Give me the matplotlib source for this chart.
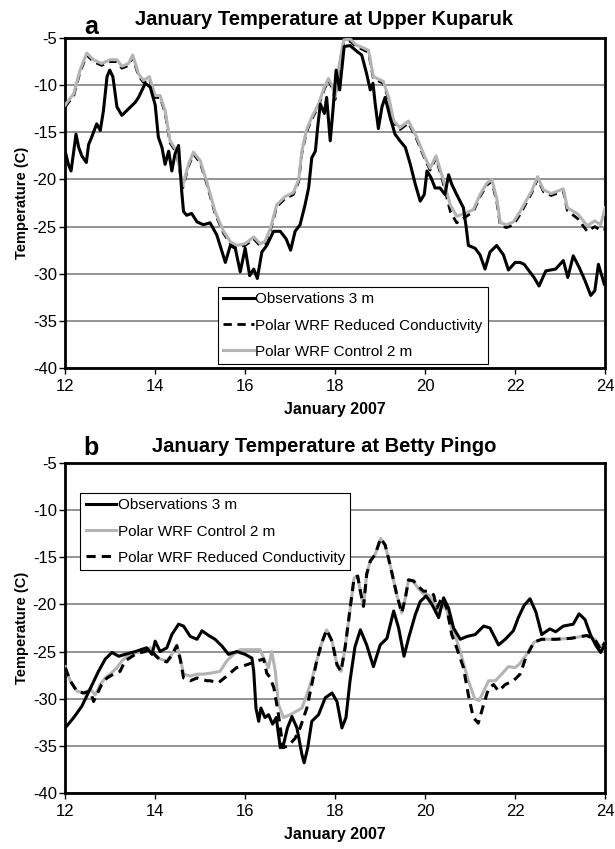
import matplotlib
matplotlib.use("Agg")
from matplotlib import pyplot as plt

plt.rcParams['font.family'] = ['Liberation Sans', 'DejaVu Sans']
plt.rcParams['axes.unicode_minus'] = False

# ---- panel a: Upper Kuparuk ----
a_obs_day = [12.0, 12.07, 12.13, 12.19, 12.24, 12.3, 12.37, 12.47, 12.52, 12.59, 12.7, 12.78,
             12.85, 12.93, 12.99, 13.06, 13.15, 13.26, 13.41, 13.56, 13.63, 13.78, 13.89, 14.0,
             14.07, 14.15, 14.22, 14.3, 14.37, 14.44, 14.52, 14.59, 14.63, 14.7, 14.81, 14.93,
             15.07, 15.22, 15.37, 15.56, 15.67, 15.78, 15.89, 16.0, 16.1, 16.19, 16.27, 16.37,
             16.48, 16.63, 16.78, 16.91, 17.01, 17.11, 17.22, 17.33, 17.41, 17.48, 17.56, 17.61,
             17.67, 17.76, 17.81, 17.89, 17.95, 18.02, 18.1, 18.2, 18.33, 18.48, 18.59, 18.7,
             18.78, 18.84, 18.89, 18.96, 19.04, 19.11, 19.22, 19.33, 19.44, 19.56, 19.67, 19.78,
             19.89, 19.98, 20.04, 20.13, 20.22, 20.33, 20.44, 20.52, 20.59, 20.7, 20.85, 20.91,
             20.96, 21.11, 21.22, 21.33, 21.44, 21.59, 21.74, 21.85, 22.0, 22.11, 22.2, 22.42,
             22.53, 22.68, 22.9, 23.07, 23.17, 23.29, 23.42, 23.55, 23.68, 23.77, 23.85, 23.98]
a_obs_t = [-17.0, -18.4, -19.1, -17.0, -15.2, -16.6, -17.5, -18.2, -16.3, -15.5, -14.1, -14.8,
           -12.7, -9.1, -8.4, -9.1, -12.3, -13.2, -12.5, -11.8, -11.3, -9.8, -10.2, -12.1,
           -15.5, -16.6, -18.4, -17.0, -19.1, -17.3, -16.4, -21.3, -23.4, -23.8, -23.6, -24.5,
           -24.8, -24.6, -25.9, -28.8, -27.0, -27.3, -29.8, -27.3, -30.2, -29.5, -30.5, -27.7,
           -27.0, -25.5, -25.5, -26.3, -27.5, -25.5, -24.8, -22.7, -20.9, -17.7, -17.0, -14.5,
           -12.0, -13.0, -11.3, -15.9, -12.7, -8.4, -10.5, -5.9, -5.8, -6.4, -6.8, -8.8,
           -10.5, -9.8, -12.0, -14.6, -12.3, -11.3, -13.4, -15.2, -15.9, -16.6, -18.4, -20.5,
           -22.3, -21.6, -19.1, -19.8, -20.9, -20.9, -21.6, -19.5, -20.5, -21.6, -23.0, -25.0,
           -27.0, -27.3, -28.0, -29.5, -27.7, -27.0, -28.0, -29.6, -28.8, -28.8, -29.0, -30.4,
           -31.3, -29.7, -29.5, -28.6, -30.4, -28.1, -29.3, -30.7, -32.3, -31.8, -29.0, -31.1]

a_mod_day = [12.0, 12.19, 12.33, 12.48, 12.63, 12.81, 13.0, 13.15, 13.26, 13.41, 13.5, 13.63,
             13.74, 13.87, 14.0, 14.11, 14.22, 14.33, 14.48, 14.61, 14.74, 14.85, 15.0, 15.15,
             15.33, 15.52, 15.67, 15.81, 16.0, 16.19, 16.33, 16.44, 16.56, 16.7, 16.89, 17.07,
             17.19, 17.26, 17.36, 17.48, 17.63, 17.76, 17.85, 17.93, 18.0, 18.07, 18.19, 18.33,
             18.48, 18.56, 18.74, 18.85, 19.07, 19.19, 19.3, 19.44, 19.63, 19.81, 20.0, 20.11,
             20.24, 20.37, 20.56, 20.7, 20.89, 21.07, 21.22, 21.37, 21.48, 21.59, 21.67, 21.81,
             21.96, 22.11, 22.37, 22.5, 22.63, 22.8, 23.07, 23.16, 23.4, 23.6, 23.77, 23.9, 24.0]
a_ctl_t = [-12.1, -10.9, -8.4, -6.6, -7.3, -7.7, -7.3, -7.3, -8.0, -7.7, -6.8, -8.8,
           -9.5, -9.1, -11.1, -11.1, -12.7, -15.9, -17.0, -20.7, -18.4, -17.1, -18.0, -20.3,
           -23.4, -25.5, -26.6, -27.0, -26.8, -26.1, -26.8, -26.6, -25.2, -22.7, -21.8, -21.4,
           -20.0, -17.0, -14.8, -13.4, -12.0, -10.2, -9.3, -10.0, -11.3, -8.4, -5.2, -5.1,
           -5.8, -5.9, -6.3, -9.1, -9.6, -11.3, -13.8, -14.5, -13.8, -15.5, -17.7, -18.8,
           -17.5, -19.5, -22.7, -23.9, -23.6, -23.2, -21.6, -20.4, -20.0, -22.0, -24.6, -24.8,
           -24.5, -23.4, -21.2, -19.7, -21.1, -21.5, -21.0, -23.0, -23.7, -24.9, -24.4, -24.8, -23.0]
a_red_t = [-12.3, -11.1, -8.6, -6.8, -7.5, -7.9, -7.5, -7.5, -8.2, -7.9, -7.0, -9.0,
           -9.7, -9.3, -11.3, -11.3, -12.9, -16.1, -17.2, -20.9, -18.6, -17.3, -18.2, -20.5,
           -23.6, -25.7, -26.8, -27.2, -27.0, -26.3, -27.0, -26.8, -25.4, -22.9, -22.0, -21.6,
           -20.2, -17.2, -15.0, -13.6, -12.2, -10.4, -9.5, -10.2, -11.5, -8.6, -5.4, -5.3,
           -6.0, -6.1, -6.5, -9.3, -9.8, -11.5, -14.0, -14.7, -14.0, -15.7, -17.9, -19.0,
           -17.7, -19.8, -23.4, -24.6, -24.0, -23.4, -21.8, -20.6, -20.2, -22.3, -24.9, -25.1,
           -24.8, -23.7, -21.4, -19.9, -21.3, -21.7, -21.2, -23.3, -24.2, -25.5, -25.0, -25.4, -25.3]

# ---- panel b: Betty Pingo ----
b_obs_day = [12.0, 12.19, 12.37, 12.56, 12.74, 12.89, 13.04, 13.19, 13.33, 13.56, 13.81, 13.93,
             14.0, 14.11, 14.26, 14.37, 14.52, 14.63, 14.78, 14.93, 15.04, 15.19, 15.33, 15.48,
             15.63, 15.81, 16.0, 16.15, 16.19, 16.24, 16.3, 16.35, 16.44, 16.52, 16.61, 16.69,
             16.78, 16.85, 16.94, 17.04, 17.15, 17.26, 17.31, 17.39, 17.48, 17.63, 17.78, 17.93,
             18.04, 18.15, 18.24, 18.33, 18.44, 18.56, 18.7, 18.85, 19.0, 19.15, 19.3, 19.41,
             19.53, 19.63, 19.78, 19.89, 20.02, 20.15, 20.3, 20.41, 20.52, 20.63, 20.78, 20.93,
             21.11, 21.3, 21.44, 21.63, 21.78, 21.96, 22.07, 22.2, 22.33, 22.46, 22.59, 22.77,
             22.9, 23.07, 23.29, 23.42, 23.55, 23.68, 23.8, 23.9, 24.0]
b_obs_t = [-33.1, -32.0, -30.8, -28.9, -27.1, -25.8, -25.1, -25.5, -25.3, -25.0, -24.6, -25.3,
           -23.9, -25.0, -24.6, -23.2, -22.1, -22.3, -23.4, -23.7, -22.8, -23.3, -23.7, -24.4,
           -25.3, -25.0, -25.3, -25.7, -27.1, -31.0, -32.4, -31.0, -32.0, -31.7, -32.7, -32.0,
           -35.2, -34.9, -33.1, -31.9, -33.1, -35.9, -36.8, -35.2, -32.4, -31.7, -29.9, -29.4,
           -30.3, -33.1, -32.0, -28.1, -24.5, -22.7, -24.3, -26.6, -24.3, -23.6, -20.7, -22.5,
           -25.5, -23.6, -21.1, -19.7, -19.1, -20.0, -21.4, -19.3, -20.4, -22.5, -23.7, -23.4,
           -23.2, -22.3, -22.5, -24.3, -23.7, -22.8, -21.4, -20.1, -19.4, -20.8, -23.2, -22.6,
           -22.9, -22.3, -22.1, -21.0, -21.6, -23.3, -24.4, -25.1, -24.2]

b_ctl_day = [12.0, 12.11, 12.26, 12.41, 12.56, 12.67, 12.78, 12.89, 13.0, 13.15, 13.26, 13.37,
             13.59, 13.78, 13.89, 14.0, 14.11, 14.26, 14.37, 14.48, 14.56, 14.63, 14.78, 14.93,
             15.07, 15.22, 15.44, 15.59, 15.74, 15.89, 16.11, 16.33, 16.44, 16.52, 16.59, 16.67,
             16.74, 16.85, 17.0, 17.15, 17.26, 17.37, 17.48, 17.59, 17.7, 17.81, 17.93, 18.04,
             18.13, 18.22, 18.33, 18.42, 18.5, 18.56, 18.63, 18.7, 18.78, 18.89, 19.01, 19.11,
             19.22, 19.37, 19.48, 19.56, 19.63, 19.74, 19.85, 19.96, 20.07, 20.19, 20.26, 20.37,
             20.48, 20.59, 20.7, 20.78, 20.96, 21.1, 21.2, 21.3, 21.41, 21.56, 21.7, 21.85,
             22.0, 22.1, 22.24, 22.42, 22.59, 22.9, 23.24, 23.59, 23.77, 23.9, 24.0]
b_ctl_t = [-26.6, -28.1, -29.2, -29.4, -29.0, -29.6, -28.5, -27.8, -27.4, -26.7, -26.0, -25.5,
           -25.1, -25.0, -24.6, -25.3, -25.8, -26.0, -25.3, -24.3, -25.7, -27.4, -27.6, -27.4,
           -27.4, -27.3, -27.1, -26.0, -25.3, -24.8, -24.8, -24.8, -26.0, -26.7, -25.0, -27.1,
           -30.6, -32.0, -31.7, -31.3, -31.0, -29.6, -28.0, -26.0, -24.1, -22.7, -23.9, -26.4,
           -27.1, -24.6, -20.6, -17.2, -17.0, -18.6, -20.2, -16.8, -15.4, -14.7, -13.0, -13.7,
           -15.8, -19.0, -20.9, -19.3, -17.4, -17.6, -18.3, -18.9, -19.0, -19.8, -21.0, -20.0,
           -20.6, -22.6, -23.8, -25.0, -28.1, -30.0, -30.2, -29.2, -28.1, -28.1, -27.4, -26.6,
           -26.7, -26.3, -25.4, -24.0, -23.7, -23.7, -23.6, -23.3, -23.7, -24.6, -24.0]

b_red_day = [12.0, 12.11, 12.26, 12.41, 12.56, 12.63, 12.7, 12.81, 12.93, 13.07, 13.22, 13.33,
             13.59, 13.78, 13.89, 14.0, 14.11, 14.26, 14.37, 14.48, 14.56, 14.63, 14.78, 14.93,
             15.15, 15.22, 15.41, 15.59, 15.81, 16.04, 16.26, 16.41, 16.48, 16.56, 16.64, 16.74,
             16.84, 16.96, 17.11, 17.22, 17.37, 17.48, 17.59, 17.7, 17.81, 17.93, 18.04, 18.13,
             18.22, 18.33, 18.42, 18.5, 18.56, 18.63, 18.7, 18.78, 18.89, 19.01, 19.11, 19.22,
             19.37, 19.48, 19.56, 19.63, 19.74, 19.85, 19.96, 20.07, 20.19, 20.26, 20.37, 20.48,
             20.59, 20.7, 20.85, 20.96, 21.07, 21.18, 21.3, 21.41, 21.52, 21.63, 21.78, 21.96,
             22.11, 22.24, 22.42, 22.59, 22.9, 23.24, 23.59, 23.77, 23.9, 24.0]
b_red_t = [-26.7, -28.1, -29.2, -29.4, -29.2, -30.3, -29.6, -28.5, -27.8, -27.4, -27.1, -26.0,
           -25.2, -25.0, -24.7, -25.4, -25.9, -26.1, -25.4, -24.4, -25.9, -27.8, -28.1, -27.8,
           -28.1, -28.1, -28.3, -27.6, -26.7, -26.4, -26.0, -25.8, -27.3, -27.8, -28.9, -31.7,
           -35.2, -35.0, -34.2, -33.1, -31.0, -28.5, -26.0, -24.1, -22.7, -23.9, -26.4, -27.1,
           -24.6, -20.5, -17.2, -17.0, -18.6, -20.2, -16.8, -15.4, -14.7, -13.0, -13.7, -15.8,
           -19.0, -20.9, -19.3, -17.4, -17.5, -18.1, -18.6, -18.6, -19.0, -20.4, -19.3, -20.4,
           -23.2, -24.6, -26.7, -29.6, -32.0, -32.6, -30.6, -28.9, -28.5, -29.2, -28.5, -28.1,
           -27.4, -25.6, -24.0, -23.7, -23.7, -23.6, -23.3, -23.7, -24.8, -24.0]

x_ticks = [12, 14, 16, 18, 20, 22, 24]
y_ticks = [-40, -35, -30, -25, -20, -15, -10, -5]

lab_obs = "Observations 3 m"
lab_red = "Polar WRF Reduced Conductivity"
lab_ctl = "Polar WRF Control 2 m"

GRAY = '#b4b4b4'

fig = plt.figure(figsize=(6.15, 8.49), dpi=100)
ax1 = fig.add_axes([0.106, 0.5665, 0.878, 0.3887])
ax2 = fig.add_axes([0.106, 0.066, 0.878, 0.3887])


def style_axes(ax):
    ax.set_xlim(12, 24)
    ax.set_ylim(-40, -5)
    ax.set_xticks(x_ticks)
    ax.set_yticks(y_ticks)
    ax.yaxis.grid(True, color='#808080', linewidth=1.2)
    ax.set_axisbelow(True)
    for s in ax.spines.values():
        s.set_linewidth(2.0)
    ax.tick_params(direction='out', length=4, width=1, labelsize=12, pad=2)
    ax.tick_params(axis='x', pad=4)
    ax.set_xlabel("January 2007", fontsize=11.5, fontweight='bold', labelpad=6)
    ax.set_ylabel("Temperature (C)", fontsize=10.5, fontweight='bold', labelpad=3)


leg_kw = dict(borderaxespad=0, fontsize=11, fancybox=False, framealpha=1,
              edgecolor='black', handlelength=2.0, handletextpad=0.1,
              labelspacing=0.8, borderpad=0.35)

# panel a
l_red, = ax1.plot(a_mod_day, a_red_t, color='black', lw=2.0, ls=(0, (3, 2)), zorder=3)
l_ctl, = ax1.plot(a_mod_day, a_ctl_t, color=GRAY, lw=2.2, zorder=4)
l_obs, = ax1.plot(a_obs_day, a_obs_t, color='black', lw=2.2, zorder=5)
style_axes(ax1)
leg = ax1.legend([l_obs, l_red, l_ctl], [lab_obs, lab_red, lab_ctl],
                 loc='lower left', bbox_to_anchor=(0.283, 0.012), **leg_kw)
leg.get_frame().set_linewidth(0.8)
fig.text(0.527, 0.977, "January Temperature at Upper Kuparuk", ha='center', va='center',
         fontsize=14.5, fontweight='bold')
fig.text(0.148, 0.968, "a", ha='center', va='center', fontsize=18, fontweight='bold')

# panel b
m_ctl, = ax2.plot(b_ctl_day, b_ctl_t, color=GRAY, lw=2.2, zorder=3)
m_red, = ax2.plot(b_red_day, b_red_t, color='black', lw=2.2, ls=(0, (3, 2)), zorder=4)
m_obs, = ax2.plot(b_obs_day, b_obs_t, color='black', lw=2.2, zorder=5)
style_axes(ax2)
leg2 = ax2.legend([m_obs, m_ctl, m_red], [lab_obs, lab_ctl, lab_red],
                  loc='upper left', bbox_to_anchor=(0.028, 0.909), **leg_kw)
leg2.get_frame().set_linewidth(0.8)
fig.text(0.527, 0.474, "January Temperature at Betty Pingo", ha='center', va='center',
         fontsize=14.5, fontweight='bold')
fig.text(0.148, 0.472, "b", ha='center', va='center', fontsize=18, fontweight='bold')

plt.savefig('out.png', dpi=100)
